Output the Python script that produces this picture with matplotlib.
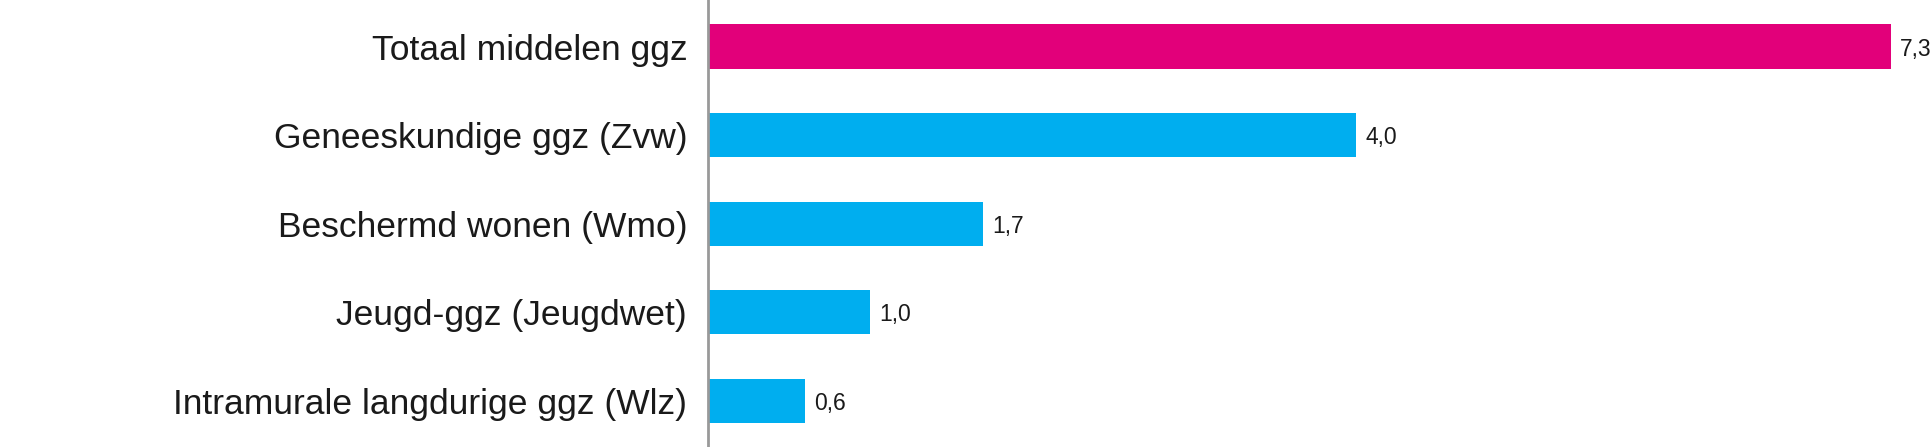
import matplotlib
matplotlib.use('Agg')
import matplotlib.pyplot as plt

# data
categories = ['Totaal middelen ggz', 'Geneeskundige ggz (Zvw)', 'Beschermd wonen (Wmo)',
              'Jeugd-ggz (Jeugdwet)', 'Intramurale langdurige ggz (Wlz)']
values = [7.3, 4.0, 1.7, 1.0, 0.6]
value_labels = ['7,3', '4,0', '1,7', '1,0', '0,6']
colors = ['#E2007A', '#00AEEF', '#00AEEF', '#00AEEF', '#00AEEF']

fig = plt.figure(figsize=(19.33, 4.47), dpi=100)
ax = fig.add_axes([708 / 1933, 0, 1 - 708 / 1933, 1])

ypos = list(range(len(categories)))
ax.barh(ypos, values, height=0.5, color=colors)

for y, v, lab in zip(ypos, values, value_labels):
    ax.text(v + 0.055, y, lab, va='center_baseline', ha='left', fontsize=16.5,
            family='Liberation Sans', color='#1a1a1a')

ax.set_yticks(ypos)
ax.set_yticklabels(categories, fontsize=25.5, family='Liberation Sans', color='#1a1a1a')
ax.tick_params(axis='y', length=0, pad=15)
ax.set_xticks([])
ax.set_xlim(0, 7.56)
ax.set_ylim(4.52, -0.525)

for s in ['top', 'right', 'bottom']:
    ax.spines[s].set_visible(False)
ax.spines['left'].set_color('#999999')
ax.spines['left'].set_linewidth(2)

fig.savefig('out.png', dpi=100)
